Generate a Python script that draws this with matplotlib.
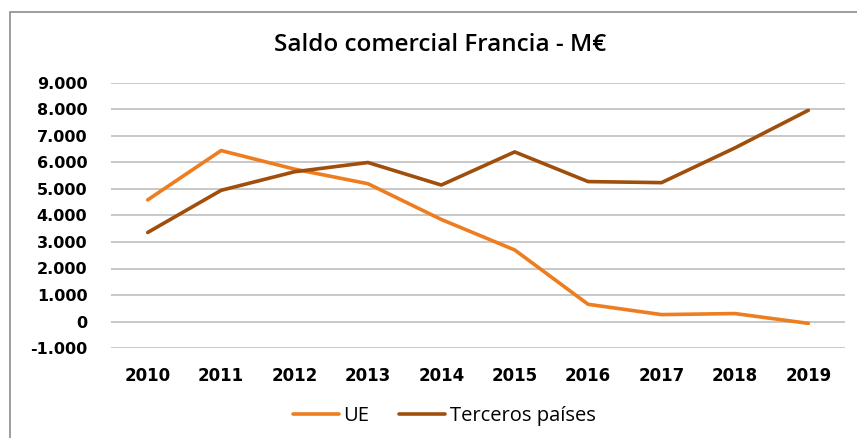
import matplotlib
matplotlib.use('Agg')
from matplotlib import pyplot as plt
from matplotlib.patches import Rectangle
from matplotlib.ticker import FuncFormatter

years = ['2010', '2011', '2012', '2013', '2014', '2015', '2016', '2017', '2018', '2019']
ue = [4590, 6450, 5750, 5200, 3850, 2700, 650, 260, 300, -70]
terceros = [3360, 4950, 5650, 6000, 5150, 6400, 5280, 5240, 6550, 7970]

yticks = [-1000, 0, 1000, 2000, 3000, 4000, 5000, 6000, 7000, 8000, 9000]

c_ue = '#ED7D1F'
c_ter = '#A04E0C'
grid_col = '#BFBFBF'

fig = plt.figure(figsize=[8.57, 4.38], dpi=100)
ax = fig.add_axes([111 / 857, 1 - 348 / 438, 734 / 857, 265 / 438])

# chart frame
fig.patches.append(Rectangle((10 / 857, -0.1), 1.2, 1 - 12 / 438 + 0.1, transform=fig.transFigure,
                             fill=False, edgecolor='#8C8C8C', linewidth=1.2))

x = list(range(len(years)))
ax.plot(x, ue, color=c_ue, linewidth=2.6, label='UE', solid_capstyle='round')
ax.plot(x, terceros, color=c_ter, linewidth=2.6, label='Terceros países', solid_capstyle='round')

ax.set_xlim(-0.5, len(years) - 0.5)
ax.set_ylim(-1000, 9000)
ax.set_yticks(yticks)
ax.yaxis.set_major_formatter(FuncFormatter(lambda v, p: f'{int(v):,}'.replace(',', '.')))
ax.set_xticks(x)
ax.set_xticklabels(years, fontfamily='DejaVu Sans', fontweight='bold', fontsize=12)
for lab in ax.get_yticklabels():
    lab.set_fontfamily('DejaVu Sans')
    lab.set_fontweight('bold')
    lab.set_fontsize(11.5)

ax.grid(axis='y', color=grid_col, linewidth=1.2)
ax.set_axisbelow(True)
for s in ax.spines.values():
    s.set_visible(False)
ax.tick_params(axis='both', length=0)
ax.tick_params(axis='y', pad=17)
ax.tick_params(axis='x', pad=14)

fig.text(440 / 857, 1 - 45 / 438, 'Saldo comercial Francia - M€', ha='center', va='center',
         fontfamily='Open Sans', fontweight='semibold', fontsize=17.5)

fig.legend(loc='center', bbox_to_anchor=(444 / 857, 1 - 416 / 438), ncol=2, frameon=False,
           prop={'family': 'Open Sans', 'size': 14.5}, handlelength=2.3, handletextpad=0.2,
           columnspacing=1.5)

fig.savefig('out.png', dpi=100)
